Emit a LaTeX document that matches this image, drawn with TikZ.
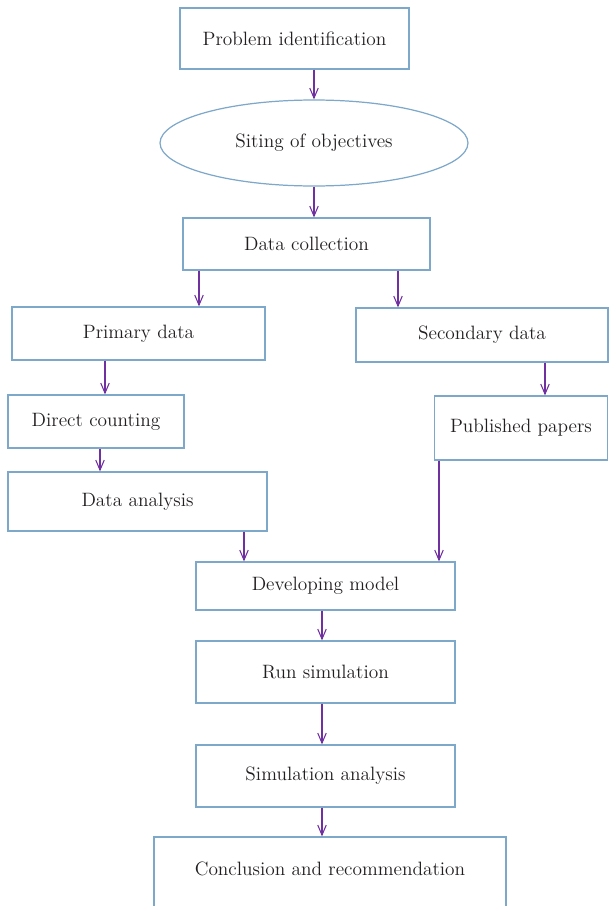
\documentclass[tikz,border=0pt]{standalone}
\usetikzlibrary{shapes,arrows.meta,positioning,calc}

\definecolor{boxline}{RGB}{125,168,202}
\definecolor{flowline}{RGB}{112,48,160}
\definecolor{txt}{RGB}{35,31,32}

\tikzset{
  stepbox/.style={draw=boxline,line width=0.7pt,rectangle,text=txt,align=center,inner sep=2pt,font=\fontsize{11}{13}\selectfont},
  goalbox/.style={draw=boxline,line width=0.7pt,ellipse,text=txt,inner sep=0pt,font=\fontsize{11}{13}\selectfont},
  flow/.style={draw=flowline,line width=0.6pt,-{Straight Barb[length=2mm,width=1.7mm]}}
}

\begin{document}
\begin{tikzpicture}[x=0.02cm,y=-0.02cm]

\useasboundingbox (0,0) rectangle (609,906);

\node[stepbox,minimum width=4.58cm,minimum height=1.22cm] (prob) at (294.5,38.5) {Problem identification};
\node[goalbox,minimum width=6.16cm,minimum height=1.72cm] (obj) at (314,143) {Siting of objectives};
\node[stepbox,minimum width=4.94cm,minimum height=1.04cm] (coll) at (306.5,244) {Data collection};

\node[stepbox,minimum width=5.06cm,minimum height=1.06cm] (prim) at (138.5,333.5) {Primary data};
\node[stepbox,minimum width=5.04cm,minimum height=1.08cm] (sec) at (482,335) {Secondary data};

\node[stepbox,minimum width=3.52cm,minimum height=1.06cm] (count) at (96,421.5) {Direct counting};
\node[stepbox,minimum width=3.46cm,minimum height=1.28cm] (pub) at (521,428) {Published papers};
\node[stepbox,minimum width=5.18cm,minimum height=1.18cm] (anal) at (137.5,501.5) {Data analysis};

\node[stepbox,minimum width=5.18cm,minimum height=0.96cm] (model) at (325.5,586) {Developing model};
\node[stepbox,minimum width=5.18cm,minimum height=1.24cm] (run) at (325.5,672) {Run simulation};
\node[stepbox,minimum width=5.18cm,minimum height=1.24cm] (simana) at (325.5,776) {Simulation analysis};
\node[stepbox,minimum width=7.04cm,minimum height=1.6cm,text depth=0.35cm] (concl) at (330,877) {Conclusion and recommendation};

% main line
\draw[flow] (prob.south -| obj.north) -- (obj.north);
\draw[flow] (obj.south) -- (coll.north -| obj.south);
\draw[flow] (coll.south -| 199,0) -- (prim.north -| 199,0);
\draw[flow] (coll.south -| 398,0) -- (sec.north -| 398,0);

% primary branch
\draw[flow] (prim.south -| 105,0) -- (count.north -| 105,0);
\draw[flow] (count.south -| 100,0) -- (anal.north -| 100,0);
\draw[flow] (anal.south -| 244,0) -- (model.north -| 244,0);

% secondary branch
\draw[flow] (sec.south -| 545,0) -- (pub.north -| 545,0);
\draw[flow] (pub.south -| 439,0) -- (model.north -| 439,0);

\draw[flow] (model.south -| 322,0) -- (run.north -| 322,0);
\draw[flow] (run.south -| 322,0) -- (simana.north -| 322,0);
\draw[flow] (simana.south -| 322,0) -- (concl.north -| 322,0);

\end{tikzpicture}
\end{document}
